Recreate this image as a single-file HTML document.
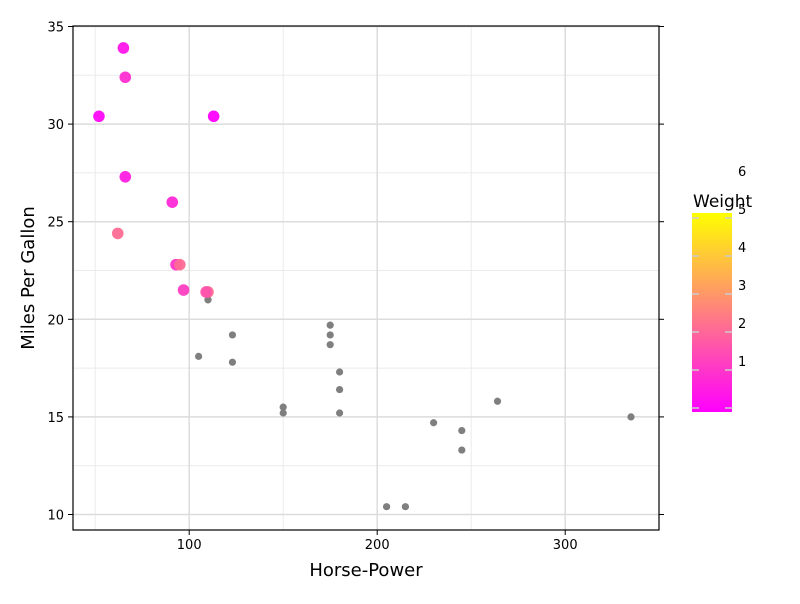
<!DOCTYPE html>
<html><head><meta charset="utf-8"><style>
body{margin:0;background:#fff;font-family:"DejaVu Sans","Liberation Sans",sans-serif}
</style></head><body>
<svg id="chart" width="800" height="600" xmlns="http://www.w3.org/2000/svg" font-family="DejaVu Sans, Liberation Sans, sans-serif">
<rect width="800" height="600" fill="#fff"/>
<g id="grid"></g><g id="pts"></g><g id="axes"></g><g id="legend"></g>
</svg>
<script>
const hp  = [110,110,93,110,175,105,245,62,95,123,123,180,180,180,205,215,230,66,52,65,97,150,150,245,175,66,91,113,264,175,335,109];
const mpg = [21.0,21.0,22.8,21.4,18.7,18.1,14.3,24.4,22.8,19.2,17.8,16.4,17.3,15.2,10.4,10.4,14.7,32.4,30.4,33.9,21.5,15.5,15.2,13.3,19.2,27.3,26.0,30.4,15.8,19.7,15.0,21.4];
const wt  = [2.62,2.875,2.32,3.215,3.44,3.46,3.57,3.19,3.15,3.44,3.44,4.07,3.73,3.78,5.25,5.424,5.345,2.2,1.615,1.835,2.465,3.52,3.435,3.84,3.845,1.935,2.14,1.513,3.17,2.77,3.57,2.78];
const xTicks = [100,200,300];
const yTicks = [10,15,20,25,30,35];
const legendLabels = [1,2,3,4,5,6];

const NS="http://www.w3.org/2000/svg";
const L=73,R=659,T=26,B=530;
const X=v=>1.2+1.88*v;
const Y=v=>514.5-(v-10)*19.52;
function mk(tag,attrs,parent){const e=document.createElementNS(NS,tag);for(const k in attrs)e.setAttribute(k,attrs[k]);parent.appendChild(e);return e;}
const grid=document.getElementById('grid'),pts=document.getElementById('pts'),axes=document.getElementById('axes'),leg=document.getElementById('legend');
[50,150,250].forEach(v=>{const l=mk('line',{x1:X(v),x2:X(v),y1:T,y2:B,stroke:'#ebebeb','stroke-width':1},grid);

});
[12.5,17.5,22.5,27.5,32.5].forEach(v=>{const l=mk('line',{x1:L,x2:R,y1:Y(v),y2:Y(v),stroke:'#ebebeb','stroke-width':1},grid);

});
xTicks.forEach(v=>{const l=mk('line',{x1:X(v),x2:X(v),y1:T,y2:B,stroke:'#dcdcdc','stroke-width':1.5},grid);

});
yTicks.forEach(v=>{const l=mk('line',{x1:L,x2:R,y1:Y(v),y2:Y(v),stroke:'#dcdcdc','stroke-width':1.5},grid);

});
const wMin=Math.min(...wt),wMax=Math.max(...wt);
function col(w){const t=(w-wMin)/(wMax-wMin);return `rgb(255,${Math.round(255*t)},${Math.round(255*(1-t))})`;}
hp.forEach((h,i)=>{if(mpg[i]>21)return;const c=mk('circle',{cx:X(h),cy:Y(mpg[i]),r:3.6,fill:'#7f7f7f'},pts);

});
hp.forEach((h,i)=>{if(mpg[i]<=21)return;const c=mk('circle',{cx:X(h),cy:Y(mpg[i]),r:5.8,fill:col(wt[i]),'fill-opacity':0.95},pts);

});
const f=mk('rect',{x:L,y:T,width:R-L,height:B-T,fill:'none',stroke:'#000','stroke-width':1.2},axes);


xTicks.forEach(v=>{mk('line',{x1:X(v),x2:X(v),y1:B,y2:B+5,stroke:'#000'},axes);
const t=mk('text',{x:X(v),y:B+19,'text-anchor':'middle','font-size':13,fill:'#000'},axes);t.textContent=v;

});
yTicks.forEach(v=>{mk('line',{x1:L-5,x2:L,y1:Y(v),y2:Y(v),stroke:'#000'},axes);
mk('line',{x1:R,x2:R+5,y1:Y(v),y2:Y(v),stroke:'#000'},axes);
const t=mk('text',{x:L-9,y:Y(v)+5,'text-anchor':'end','font-size':13,fill:'#000'},axes);t.textContent=v;

});
const xt=mk('text',{x:(L+R)/2,y:576,'text-anchor':'middle','font-size':18,fill:'#000'},axes);xt.textContent='Horse-Power';


const yt=mk('text',{x:34,y:(T+B)/2,'text-anchor':'middle','font-size':18,fill:'#000',transform:`rotate(-90 34 ${(T+B)/2})`},axes);yt.textContent='Miles Per Gallon';


const defs=mk('defs',{},leg);const g=mk('linearGradient',{id:'gr',x1:0,y1:1,x2:0,y2:0},defs);
mk('stop',{offset:0,'stop-color':'#ff00ff'},g);mk('stop',{offset:1,'stop-color':'#ffff00'},g);
const bar=mk('rect',{x:692,y:213,width:40,height:199,fill:'url(#gr)'},leg);


for(let i=0;i<6;i++){const y=218+i*38;mk('line',{x1:692,x2:699,y1:y,y2:y,stroke:'#ccc','stroke-width':1.5},leg);mk('line',{x1:725,x2:732,y1:y,y2:y,stroke:'#ccc','stroke-width':1.5},leg);}
legendLabels.forEach((v,i)=>{const t=mk('text',{x:738,y:366-i*38,'font-size':13,fill:'#000'},leg);t.textContent=v;

});
const lt=mk('text',{x:693,y:207,'font-size':17,fill:'#000'},leg);lt.textContent='Weight';


</script>
</body></html>
